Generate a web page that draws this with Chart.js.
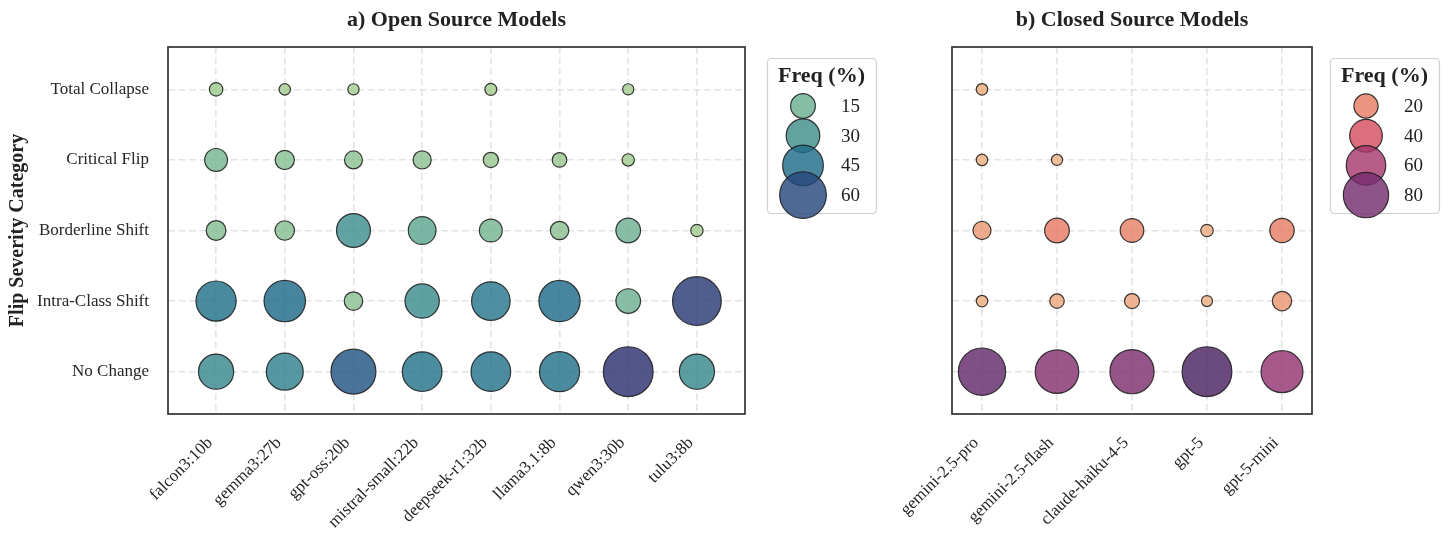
<!DOCTYPE html>
<html>
<head>
<meta charset="utf-8">
<title>Flip Severity by Model</title>
<script src="https://cdn.jsdelivr.net/npm/chart.js@4.4.1/dist/chart.umd.min.js"></script>
<style>
  html, body { margin: 0; padding: 0; background: #ffffff; }
  #wrap { position: relative; width: 1450px; height: 535px; overflow: hidden; }
  .panel { position: absolute; top: 0; height: 535px; }
  #panelA { left: 0; width: 890px; }
  #panelB { left: 890px; width: 560px; }
</style>
</head>
<body>
<div id="wrap">
  <div class="panel" id="panelA"><canvas id="chartA"></canvas></div>
  <div class="panel" id="panelB"><canvas id="chartB"></canvas></div>
</div>
<script>
// ---- categories ----
const severityLevels = ['No Change', 'Intra-Class Shift', 'Borderline Shift', 'Critical Flip', 'Total Collapse'];
const openModels = ['falcon3:10b', 'gemma3:27b', 'gpt-oss:20b', 'mistral-small:22b',
                    'deepseek-r1:32b', 'llama3.1:8b', 'qwen3:30b', 'tulu3:8b'];
const closedModels = ['gemini-2.5-pro', 'gemini-2.5-flash', 'claude-haiku-4-5', 'gpt-5', 'gpt-5-mini'];

// ---- frequency (%) per severity level, one value per model ----
const openNoChange    = [33.0, 36.6, 55.3, 42.6, 42.5, 43.6, 68.4, 33.0];
const openIntraClass  = [43.8, 46.6,  7.1, 31.2, 40.2, 46.2, 14.8, 65.6];
const openBorderline  = [ 8.5,  8.2, 30.5, 19.5, 12.4,  7.0, 14.8,  1.4];
const openCritical    = [12.3,  7.9,  6.5,  6.7,  3.8,  3.2,  1.4,  0.0];
const openCollapse    = [ 2.3,  0.7,  0.6,  0.0,  1.1,  0.0,  0.6,  0.0];

const closedNoChange   = [87.3, 73.6, 75.8, 97.2, 68.0];
const closedIntraClass = [ 1.1,  4.4,  5.2,  0.7, 11.5];
const closedBorderline = [ 9.4, 21.2, 19.0,  2.1, 20.5];
const closedCritical   = [ 1.1,  0.8,  0.0,  0.0,  0.0];
const closedCollapse   = [ 1.1,  0.0,  0.0,  0.0,  0.0];

// ---- legend size keys ----
const openLegendTicks = [15, 30, 45, 60];
const closedLegendTicks = [20, 40, 60, 80];

// ---- colour maps (crest / flare) ----
const crestStops = ['#a5cd90', '#7dba91', '#59a590', '#40908e', '#287a8c', '#1c6488', '#254b7f', '#2c3172'];
const flareStops = ['#edb081', '#e98d6b', '#e3685c', '#d14a61', '#b13c6c', '#8f3371', '#6c2b6d', '#4b2362'];

const SERIF = "'Liberation Serif', 'Times New Roman', 'DejaVu Serif', serif";
const FILL_ALPHA = 0.82;
const EDGE = 'rgba(25,25,25,0.85)';
const EDGE_W = 1.2;

function hexToRgb(h) {
  return [parseInt(h.slice(1, 3), 16), parseInt(h.slice(3, 5), 16), parseInt(h.slice(5, 7), 16)];
}
function sampleMap(stops, t) {
  t = Math.max(0, Math.min(1, t));
  const pos = t * (stops.length - 1);
  const i = Math.min(Math.floor(pos), stops.length - 2);
  const f = pos - i;
  const a = hexToRgb(stops[i]), b = hexToRgb(stops[i + 1]);
  const c = a.map((v, k) => Math.round(v + (b[k] - v) * f));
  return `rgba(${c[0]},${c[1]},${c[2]},${FILL_ALPHA})`;
}

// marker area grows linearly with frequency (area in px^2)
function bubbleRadius(v, vmax) {
  const d = Math.sqrt(133 + 2468 * v / vmax);
  return d / 2 - EDGE_W / 2;
}

function makePanel(canvasId, cfg) {
  const rows = cfg.rows;
  const all = rows.flat().filter(v => v > 0);
  const vmax = Math.max(...all);
  const vmin = Math.min(...all);
  const colorOf = v => sampleMap(cfg.stops, (v - vmin) / (vmax - vmin));

  const points = [];
  rows.forEach((vals, j) => {
    vals.forEach((v, i) => {
      if (v > 0) points.push({ x: i, y: j, r: bubbleRadius(v, vmax), v: v });
    });
  });

  const gridOpts = { color: 'rgba(205,205,205,0.55)', lineWidth: 1.6, drawTicks: false };
  const borderOpts = { display: false, dash: [7, 3.5] };

  const decor = {
    id: 'panelDecor',
    afterDatasetsDraw(chart) {
      const ctx = chart.ctx, ca = chart.chartArea;
      ctx.save();
      // axes frame
      ctx.strokeStyle = '#333333';
      ctx.lineWidth = 1.7;
      ctx.strokeRect(ca.left, ca.top, ca.right - ca.left, ca.bottom - ca.top);
      // panel title
      ctx.fillStyle = '#222222';
      ctx.font = `bold 22px ${SERIF}`;
      ctx.textAlign = 'center';
      ctx.textBaseline = 'alphabetic';
      ctx.fillText(cfg.title, (ca.left + ca.right) / 2, 26);
      // size legend
      const x0 = ca.right + cfg.legendOffset, y0 = 58, w = 109, h = 155;
      ctx.beginPath();
      if (ctx.roundRect) ctx.roundRect(x0 + 0.5, y0 + 0.5, w, h, 4); else ctx.rect(x0 + 0.5, y0 + 0.5, w, h);
      ctx.fillStyle = 'rgba(255,255,255,0.85)';
      ctx.fill();
      ctx.strokeStyle = '#cfcfcf';
      ctx.lineWidth = 1.2;
      ctx.stroke();
      ctx.fillStyle = '#222222';
      ctx.font = `bold 22px ${SERIF}`;
      ctx.textAlign = 'center';
      ctx.fillText('Freq (%)', x0 + w / 2, y0 + 24);
      cfg.legendTicks.forEach((v, k) => {
        const cy = y0 + 48 + k * 29.7;
        const cx = x0 + 36;
        ctx.beginPath();
        ctx.arc(cx, cy, bubbleRadius(v, vmax), 0, Math.PI * 2);
        ctx.fillStyle = colorOf(v);
        ctx.fill();
        ctx.strokeStyle = EDGE;
        ctx.lineWidth = EDGE_W;
        ctx.stroke();
      });
      ctx.fillStyle = '#222222';
      ctx.font = `19px ${SERIF}`;
      ctx.textAlign = 'left';
      ctx.textBaseline = 'middle';
      cfg.legendTicks.forEach((v, k) => {
        ctx.fillText(String(v), x0 + 74, y0 + 48 + k * 29.7 + 1);
      });
      ctx.restore();
    }
  };

  return new Chart(document.getElementById(canvasId), {
    type: 'bubble',
    data: {
      datasets: [{
        data: points,
        backgroundColor: c => c.raw ? colorOf(c.raw.v) : 'transparent',
        borderColor: EDGE,
        borderWidth: EDGE_W,
        hoverRadius: 0,
        hoverBorderWidth: EDGE_W
      }]
    },
    options: {
      responsive: true,
      maintainAspectRatio: false,
      animation: false,
      events: [],
      layout: { padding: { top: 47, right: cfg.rightPad, left: 0, bottom: 0 } },
      plugins: { legend: { display: false }, tooltip: { enabled: false }, title: { display: false } },
      scales: {
        x: {
          type: 'linear',
          min: cfg.xMin, max: cfg.xMax,
          afterBuildTicks: s => { s.ticks = cfg.models.map((m, i) => ({ value: i })); },
          afterFit: s => { s.height = 121; s.paddingLeft = 0; s.paddingRight = 0; },
          grid: gridOpts,
          border: borderOpts,
          ticks: {
            autoSkip: false,
            maxRotation: 45, minRotation: 45,
            padding: 19,
            labelOffset: -6,
            color: '#262626',
            font: { family: SERIF, size: 17 },
            callback: v => cfg.models[v]
          }
        },
        y: {
          type: 'linear',
          min: -0.6, max: 4.6,
          afterBuildTicks: s => { s.ticks = severityLevels.map((m, i) => ({ value: i })); },
          afterFit: s => { s.width = cfg.yWidth; s.paddingTop = 0; s.paddingBottom = 0; },
          grid: gridOpts,
          border: borderOpts,
          title: cfg.yTitle ? {
            display: true,
            text: cfg.yTitle,
            color: '#222222',
            font: { family: SERIF, size: 20, weight: 'bold' },
            padding: { top: 6, bottom: 0 }
          } : { display: false },
          ticks: {
            display: cfg.showYLabels,
            padding: 19,
            color: '#262626',
            font: { family: SERIF, size: 17 },
            callback: v => severityLevels[v]
          }
        }
      }
    },
    plugins: [decor]
  });
}

makePanel('chartA', {
  title: 'a) Open Source Models',
  models: openModels,
  rows: [openNoChange, openIntraClass, openBorderline, openCritical, openCollapse],
  stops: crestStops,
  legendTicks: openLegendTicks,
  legendOffset: 22,
  rightPad: 145,
  yWidth: 168,
  xMin: -0.7, xMax: 7.7,
  showYLabels: true,
  yTitle: 'Flip Severity Category'
});

makePanel('chartB', {
  title: 'b) Closed Source Models',
  models: closedModels,
  rows: [closedNoChange, closedIntraClass, closedBorderline, closedCritical, closedCollapse],
  stops: flareStops,
  legendTicks: closedLegendTicks,
  legendOffset: 18,
  rightPad: 138,
  yWidth: 62,
  xMin: -0.4, xMax: 4.4,
  showYLabels: false,
  yTitle: null
});
</script>
</body>
</html>
